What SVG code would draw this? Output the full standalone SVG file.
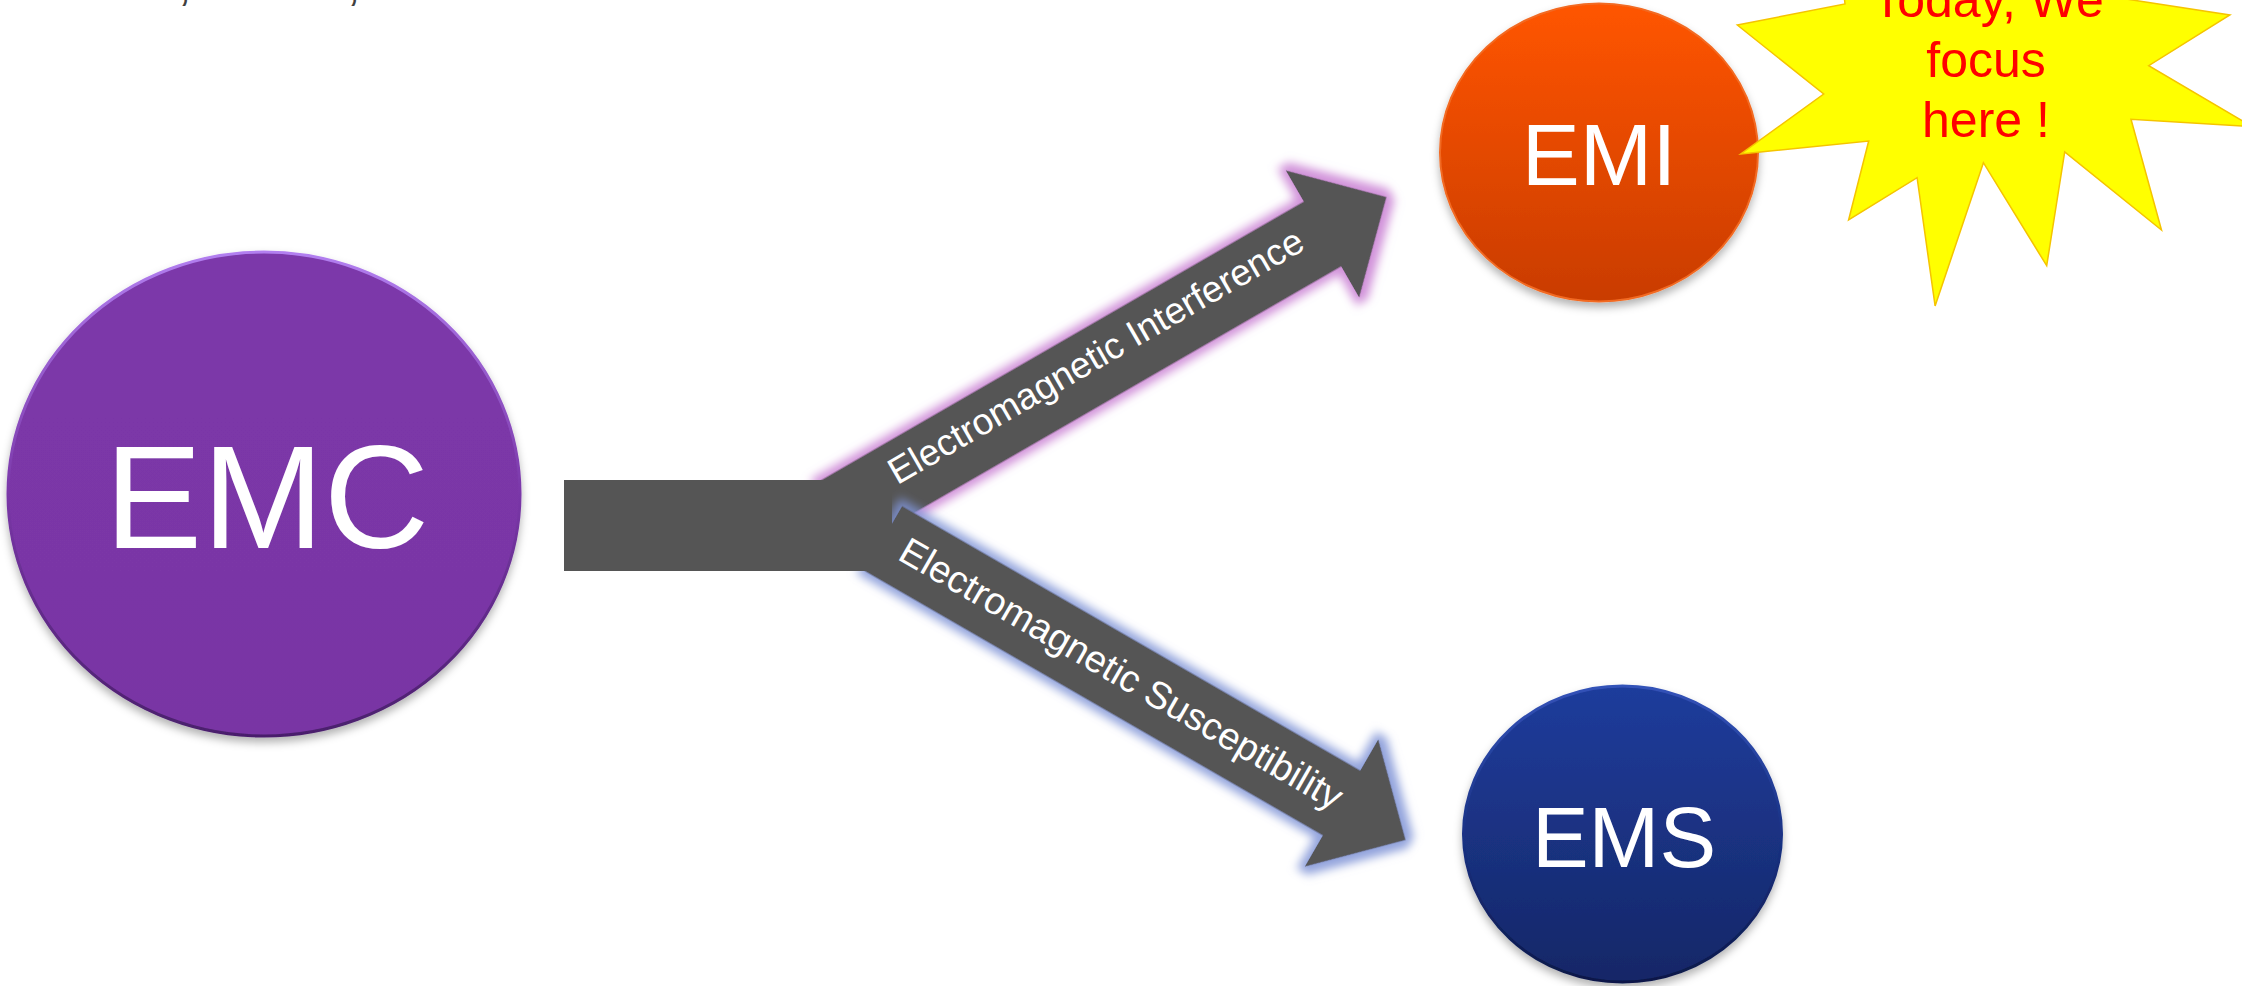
<svg xmlns="http://www.w3.org/2000/svg" width="2242" height="986" viewBox="0 0 2242 986">
  <style>
    .node-text { font-family: "Liberation Sans", Arial, sans-serif; fill: #ffffff; text-anchor: middle; }
    .arrow-label { font-family: "Liberation Sans", Arial, sans-serif; fill: #ffffff; text-anchor: end; }
    .star-text { font-family: "Liberation Sans", Arial, sans-serif; fill: #ff0000; font-size: 50px; text-anchor: middle; }
    .arrow-body { fill: #555555; }
  </style>
  <defs>
    <linearGradient id="gEmc" x1="0" y1="0" x2="0" y2="1">
      <stop offset="0" stop-color="#7c38aa"/>
      <stop offset="1" stop-color="#7935a4"/>
    </linearGradient>
    <linearGradient id="sEmc" x1="0" y1="0" x2="0" y2="1">
      <stop offset="0" stop-color="#b27ff0"/>
      <stop offset="0.5" stop-color="#7a37a8"/>
      <stop offset="1" stop-color="#4a1f6c"/>
    </linearGradient>
    <linearGradient id="gEmi" x1="0" y1="0" x2="0" y2="1">
      <stop offset="0" stop-color="#ff5500"/>
      <stop offset="1" stop-color="#c93c00"/>
    </linearGradient>
    <linearGradient id="gEms" x1="0" y1="0" x2="0" y2="1">
      <stop offset="0" stop-color="#1f3c9c"/>
      <stop offset="1" stop-color="#152767"/>
    </linearGradient>
    <linearGradient id="sEms" x1="0" y1="0" x2="0" y2="1">
      <stop offset="0" stop-color="#3352b8"/>
      <stop offset="0.5" stop-color="#1a3285"/>
      <stop offset="1" stop-color="#0c1848"/>
    </linearGradient>
    <filter id="shadow" x="-10%" y="-10%" width="120%" height="125%">
      <feGaussianBlur in="SourceAlpha" stdDeviation="4"/>
      <feOffset dx="0" dy="5" result="o"/>
      <feFlood flood-color="#000000" flood-opacity="0.3"/>
      <feComposite in2="o" operator="in" result="s"/>
      <feMerge><feMergeNode in="s"/><feMergeNode in="SourceGraphic"/></feMerge>
    </filter>
    <filter id="glowPink" x="-20%" y="-40%" width="140%" height="180%">
      <feMorphology in="SourceAlpha" operator="dilate" radius="6" result="d"/>
      <feGaussianBlur in="d" stdDeviation="5" result="b"/>
      <feFlood flood-color="#c97fd3" flood-opacity="0.85"/>
      <feComposite in2="b" operator="in" result="g"/>
      <feMerge><feMergeNode in="g"/><feMergeNode in="SourceGraphic"/></feMerge>
    </filter>
    <filter id="glowBlue" x="-20%" y="-40%" width="140%" height="180%">
      <feMorphology in="SourceAlpha" operator="dilate" radius="6" result="d"/>
      <feGaussianBlur in="d" stdDeviation="5" result="b"/>
      <feFlood flood-color="#7f93d6" flood-opacity="0.85"/>
      <feComposite in2="b" operator="in" result="g"/>
      <feMerge><feMergeNode in="g"/><feMergeNode in="SourceGraphic"/></feMerge>
    </filter>
  </defs>

  <rect width="2242" height="986" fill="#ffffff"/>

  <!-- clipped text fragments at top-left -->
  <g id="top-fragment" fill="#404040" font-family="Liberation Sans, Arial, sans-serif" font-size="48">
    <text x="178" y="0">,</text>
    <text x="347" y="0">,</text>
  </g>

  <g id="node-emc" filter="url(#shadow)">
    <ellipse cx="264" cy="494" rx="256" ry="242" fill="url(#gEmc)" stroke="url(#sEmc)" stroke-width="3"/>
    <text class="node-text" x="267" y="548" font-size="146">EMC</text>
  </g>

  <g id="node-emi" filter="url(#shadow)">
    <ellipse cx="1599" cy="152.5" rx="159" ry="149" fill="url(#gEmi)" stroke="#f26a22" stroke-width="2"/>
    <text class="node-text" x="1599" y="185" font-size="87">EMI</text>
  </g>

  <g id="node-ems" filter="url(#shadow)">
    <ellipse cx="1622.5" cy="834" rx="159" ry="148" fill="url(#gEms)" stroke="url(#sEms)" stroke-width="3"/>
    <text class="node-text" x="1624" y="867" font-size="85">EMS</text>
  </g>

  <g id="node-callout">
    <polygon points="1737.3,25 1845,4 1835,-90 1950,-30 2010,-110 2100,-5 2229.9,15 2148.7,65.7 2252,126.5 2131,119.3 2161.5,230 2064.7,152 2046.7,265.7 1983.4,162.7 1935.1,306 1917.1,177.7 1848.6,220 1868.7,141 1740.8,154 1823.7,94" fill="#ffff00" stroke="#f5c400" stroke-width="1.5" stroke-linejoin="miter"/>
    <text class="star-text" x="1988" y="17">Today, We</text>
    <text class="star-text" x="1986" y="77">focus</text>
    <text class="star-text" x="1986" y="136.5">here !</text>
  </g>

  <g id="connectors">
    <g id="arrow-emi" transform="translate(837.5,514) rotate(-30)">
      <polygon class="arrow-body" filter="url(#glowPink)" points="0,-37.5 560,-37.5 560,-73.5 634,0 560,73.5 560,37.5 0,37.5"/>
    </g>
    <g id="arrow-ems" transform="translate(883.4,538.5) rotate(30)">
      <polygon class="arrow-body" filter="url(#glowBlue)" points="0,-37.5 529,-37.5 529,-73.5 603,0 529,73.5 529,37.5 0,37.5"/>
    </g>
    <rect id="trunk" class="arrow-body" x="564" y="480" width="328" height="91"/>
    <text class="arrow-label" transform="translate(837.5,514) rotate(-30)" x="539" y="5" font-size="37">Electromagnetic Interference</text>
    <text class="arrow-label" transform="translate(883.4,538.5) rotate(30)" x="526" y="11" font-size="38">Electromagnetic Susceptibility</text>
  </g>
</svg>
